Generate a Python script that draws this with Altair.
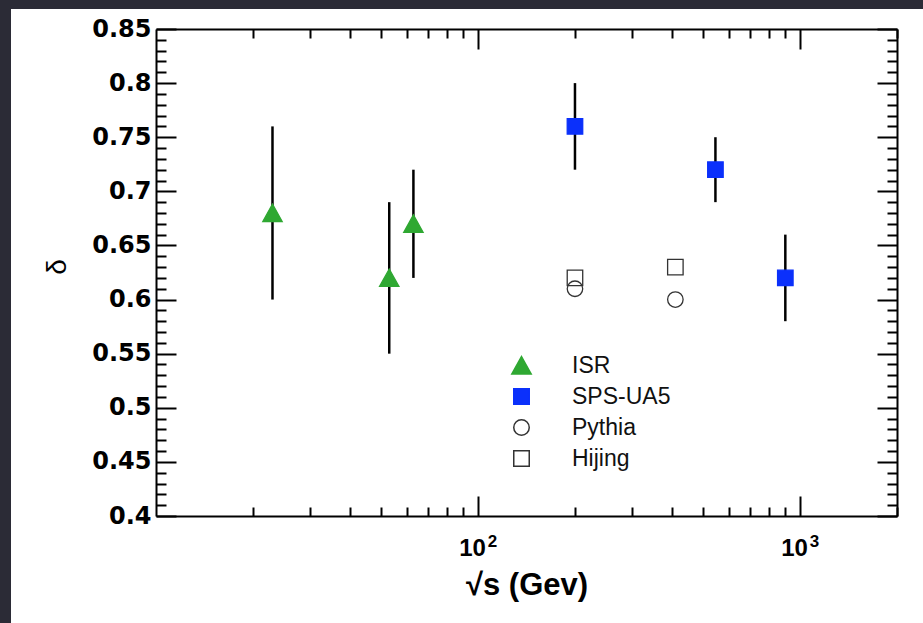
import altair as alt
import pandas as pd

# ---------------- data ----------------
isr_x = [23, 53, 63]
isr_y = [0.68, 0.62, 0.67]
isr_lo = [0.60, 0.55, 0.62]
isr_hi = [0.76, 0.69, 0.72]

sps_x = [200, 546, 900]
sps_y = [0.76, 0.72, 0.62]
sps_lo = [0.72, 0.69, 0.58]
sps_hi = [0.80, 0.75, 0.66]

pythia_x = [200, 410]
pythia_y = [0.61, 0.60]

hijing_x = [200, 410]
hijing_y = [0.62, 0.63]

series_names = ["ISR", "SPS-UA5", "Pythia", "Hijing"]
series_shapes = ["M0,-1.15L1.25,1.1L-1.25,1.1Z", "square", "circle", "square"]
series_fill = ["#2fa832", "#0b30fb", "transparent", "transparent"]
series_stroke = ["#2fa832", "#0b30fb", "#333333", "#333333"]

y_major = [0.40, 0.45, 0.50, 0.55, 0.60, 0.65, 0.70, 0.75, 0.80, 0.85]
y_ticks = [round(0.40 + 0.01 * i, 2) for i in range(46)]
x_ticks = [20, 30, 40, 50, 60, 70, 80, 90, 100, 200, 300, 400, 500, 600, 700, 800, 900, 1000, 2000]
x_major = [100, 1000]

# ---------------- tables ----------------
points = pd.DataFrame(
    {
        "series": ["ISR"] * len(isr_x) + ["SPS-UA5"] * len(sps_x)
        + ["Pythia"] * len(pythia_x) + ["Hijing"] * len(hijing_x),
        "x": isr_x + sps_x + pythia_x + hijing_x,
        "y": isr_y + sps_y + pythia_y + hijing_y,
    }
)
errs = pd.DataFrame(
    {
        "x": isr_x + sps_x,
        "lo": isr_lo + sps_lo,
        "hi": isr_hi + sps_hi,
    }
)

W, H = 741, 487

xscale = alt.Scale(type="log", domain=[10, 2000], nice=False)
yscale = alt.Scale(domain=[0.4, 0.85], nice=False, zero=False)

y_cond = {"condition": {"test": "abs(datum.value*20 - round(datum.value*20)) < 0.001", "value": 20}, "value": 10}
x_cond = {"condition": {"test": "datum.value == 100 || datum.value == 1000", "value": 20}, "value": 9}

common_tick = dict(grid=False, tickColor="black", tickWidth=2, zindex=1)

ax_y_labels = alt.Axis(
    orient="left", values=y_major, format=".2~f",
    labelFont="DejaVu Sans", labelFontWeight="bold", labelFontSize=24, labelColor="black",
    labelPadding=5, labelOverlap=False, ticks=False, tickSize=0,
    domain=True, domainColor="black", domainWidth=2,
    grid=False, title="δ", titleFont="Liberation Sans", titleFontSize=28,
    titleFontWeight="normal", titleColor="black", titleX=-99, titleY=H / 2 - 6,
    titleBaseline="middle", titleAlign="center", titleAngle=270, zindex=1,
)
ax_y_inL = alt.Axis(orient="right", offset=-W, values=y_ticks, labels=False, ticks=True,
                    tickSize=y_cond, domain=False, title=None, **common_tick)
ax_y_inR = alt.Axis(orient="left", offset=-W, values=y_ticks, labels=False, ticks=True,
                    tickSize=y_cond, domain=True, domainColor="black", domainWidth=2,
                    title=None, **common_tick)

ax_x_labels = alt.Axis(
    orient="bottom", values=x_major,
    labelExpr="'10'", labelOffset=-6,
    labelFont="Liberation Sans", labelFontWeight="bold", labelFontSize=24, labelColor="black",
    labelPadding=20, labelOverlap=False, ticks=False, tickSize=0,
    domain=True, domainColor="black", domainWidth=2, grid=False,
    title="√s (Gev)", titleFont="Liberation Sans", titleFontSize=31, titleFontWeight="bold",
    titleColor="black", titleY=78, titleBaseline="alphabetic", zindex=1,
)
ax_x_sup = alt.Axis(
    orient="bottom", values=x_major,
    labelExpr="datum.value == 100 ? '2' : '3'", labelOffset=14,
    labelFont="Liberation Sans", labelFontWeight="bold", labelFontSize=17, labelColor="black",
    labelPadding=17, labelOverlap=False, ticks=False, tickSize=0,
    domain=False, grid=False, title=None, zindex=1,
)
ax_x_inB = alt.Axis(orient="top", offset=-H, values=x_ticks, labels=False, ticks=True,
                    tickSize=x_cond, domain=False, title=None, **common_tick)
ax_x_inT = alt.Axis(orient="bottom", offset=-H, values=x_ticks, labels=False, ticks=True,
                    tickSize=x_cond, domain=True, domainColor="black", domainWidth=2,
                    title=None, **common_tick)

legend = alt.Legend(
    title=None, orient="none", legendX=354, legendY=325, padding=0,
    labelFont="Liberation Sans", labelFontSize=23, labelColor="#111111",
    labelOffset=39, rowPadding=7, symbolStrokeWidth=1.5, symbolSize=240, zindex=1,
)

# white page panel (decorative background)
panel = alt.Chart(pd.DataFrame({"k": [0]})).mark_rect(color="white").encode(
    x=alt.value(-145), x2=alt.value(790), y=alt.value(-20), y2=alt.value(620)
)

bars = alt.Chart(errs).mark_rule(color="black", strokeWidth=2.5).encode(
    x=alt.X("x:Q", scale=xscale, axis=ax_x_labels),
    y=alt.Y("lo:Q", scale=yscale, axis=ax_y_labels),
    y2="hi:Q",
)

marks = alt.Chart(points).mark_point(filled=True, opacity=1, strokeWidth=1.3, size=240).encode(
    x=alt.X("x:Q", scale=xscale, axis=ax_x_inB),
    y=alt.Y("y:Q", scale=yscale, axis=ax_y_inL),
    shape=alt.Shape("series:N", scale=alt.Scale(domain=series_names, range=series_shapes), legend=legend),
    fill=alt.Fill("series:N", scale=alt.Scale(domain=series_names, range=series_fill), legend=legend),
    stroke=alt.Stroke("series:N", scale=alt.Scale(domain=series_names, range=series_stroke), legend=legend),
)

ghost = alt.Chart(points).mark_point(opacity=0).encode(
    x=alt.X("x:Q", scale=xscale, axis=ax_x_inT),
    y=alt.Y("y:Q", scale=yscale, axis=ax_y_inR),
)

ghost2 = alt.Chart(points).mark_point(opacity=0).encode(
    x=alt.X("x:Q", scale=xscale, axis=ax_x_sup),
    y=alt.Y("y:Q", scale=yscale, axis=None),
)

chart = (
    alt.layer(panel, bars, marks, ghost, ghost2)
    .resolve_axis(x="independent", y="independent")
    .properties(
        width=W, height=H,
        padding={"left": 156, "top": 29, "right": 26, "bottom": 107},
        autosize=alt.AutoSizeParams(type="none"),
        background="#2b2b36",
    )
    .configure_view(stroke=None)
)

chart.save("out.html", embed_options={"renderer": "svg", "actions": False})
